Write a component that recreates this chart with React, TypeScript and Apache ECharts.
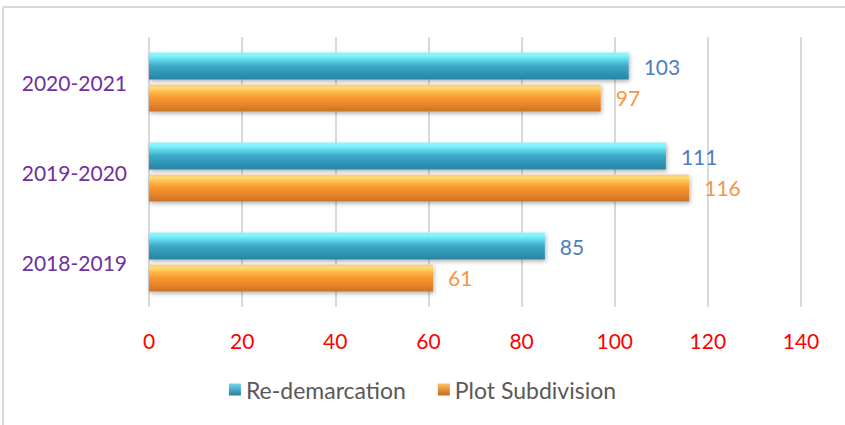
import React, { useEffect, useRef } from "react";
import * as echarts from "echarts";

const categories = ["2018-2019", "2019-2020", "2020-2021"];
const reDemarcation = [85, 111, 103];
const plotSubdivision = [61, 116, 97];
const seriesNames = ["Re-demarcation", "Plot Subdivision"];

const FONT = "Lato, 'Open Sans', sans-serif";

const tealGrad = new echarts.graphic.LinearGradient(0, 0, 0, 1, [
  { offset: 0, color: "#9AEFF5" },
  { offset: 0.12, color: "#7CF6FF" },
  { offset: 0.3, color: "#5ED0E6" },
  { offset: 0.5, color: "#3BA9C6" },
  { offset: 0.8, color: "#2E92B2" },
  { offset: 1, color: "#2A84A2" },
]);
const orangeGrad = new echarts.graphic.LinearGradient(0, 0, 0, 1, [
  { offset: 0, color: "#F2C9A0" },
  { offset: 0.12, color: "#FFDC6E" },
  { offset: 0.3, color: "#FDB648" },
  { offset: 0.5, color: "#F8962E" },
  { offset: 0.8, color: "#E38228" },
  { offset: 1, color: "#C97128" },
]);
const tealIcon = new echarts.graphic.LinearGradient(0, 0, 0, 1, [
  { offset: 0, color: "#6FD8EC" },
  { offset: 1, color: "#2A7E9C" },
]);
const orangeIcon = new echarts.graphic.LinearGradient(0, 0, 0, 1, [
  { offset: 0, color: "#FFC060" },
  { offset: 1, color: "#C46A22" },
]);

export default function App() {
  const ref = useRef<HTMLDivElement>(null);
  useEffect(() => {
    const chart = echarts.init(ref.current!, null, { renderer: "svg" });
    chart.setOption({
      animation: false,
      backgroundColor: "#ffffff",
      graphic: [
        { type: "line", shape: { x1: 3, y1: 7, x2: 845, y2: 7 }, style: { stroke: "#D9D9D9", lineWidth: 2 } },
        { type: "line", shape: { x1: 3, y1: 7, x2: 3, y2: 425 }, style: { stroke: "#D9D9D9", lineWidth: 2 } },
      ],
      grid: { left: 149, right: 44, top: 37, bottom: 118, containLabel: false },
      legend: {
        bottom: 19,
        left: "center",
        itemWidth: 12,
        itemHeight: 12,
        itemGap: 32,
        itemTextGap: 8,
        textStyle: { color: "#595959", fontSize: 23, fontFamily: FONT },
        data: [
          { name: seriesNames[0], icon: "rect", itemStyle: { color: tealIcon } },
          { name: seriesNames[1], icon: "rect", itemStyle: { color: orangeIcon } },
        ],
      },
      xAxis: {
        type: "value",
        min: 0,
        max: 140,
        interval: 20,
        axisLine: { show: false },
        axisTick: { show: false },
        splitLine: { show: true, lineStyle: { color: "#D9D9D9", width: 2 } },
        axisLabel: { color: "#FF0000", fontSize: 21, fontFamily: FONT, margin: 23 },
      },
      yAxis: {
        type: "category",
        data: categories,
        axisLine: { show: false },
        axisTick: { show: false },
        axisLabel: { color: "#7030A0", fontSize: 21, fontFamily: FONT, margin: 22 },
      },
      series: [
        {
          name: seriesNames[0],
          type: "bar",
          data: reDemarcation,
          barWidth: 27,
          barGap: "18%",
          itemStyle: {
            color: tealGrad,
            shadowColor: "rgba(0,0,0,0.3)",
            shadowBlur: 4,
            shadowOffsetX: 1,
            shadowOffsetY: 2,
          },
          label: { show: true, position: "right", distance: 15, color: "#4F7DC0", fontSize: 21, fontFamily: FONT },
        },
        {
          name: seriesNames[1],
          type: "bar",
          data: plotSubdivision,
          barWidth: 27,
          itemStyle: {
            color: orangeGrad,
            shadowColor: "rgba(0,0,0,0.3)",
            shadowBlur: 4,
            shadowOffsetX: 1,
            shadowOffsetY: 2,
          },
          label: { show: true, position: "right", distance: 15, color: "#F79646", fontSize: 21, fontFamily: FONT },
        },
      ],
    });
    return () => chart.dispose();
  }, []);
  return <div ref={ref} style={{ width: 845, height: 425, position: "absolute", left: 0, top: 0 }} />;
}
